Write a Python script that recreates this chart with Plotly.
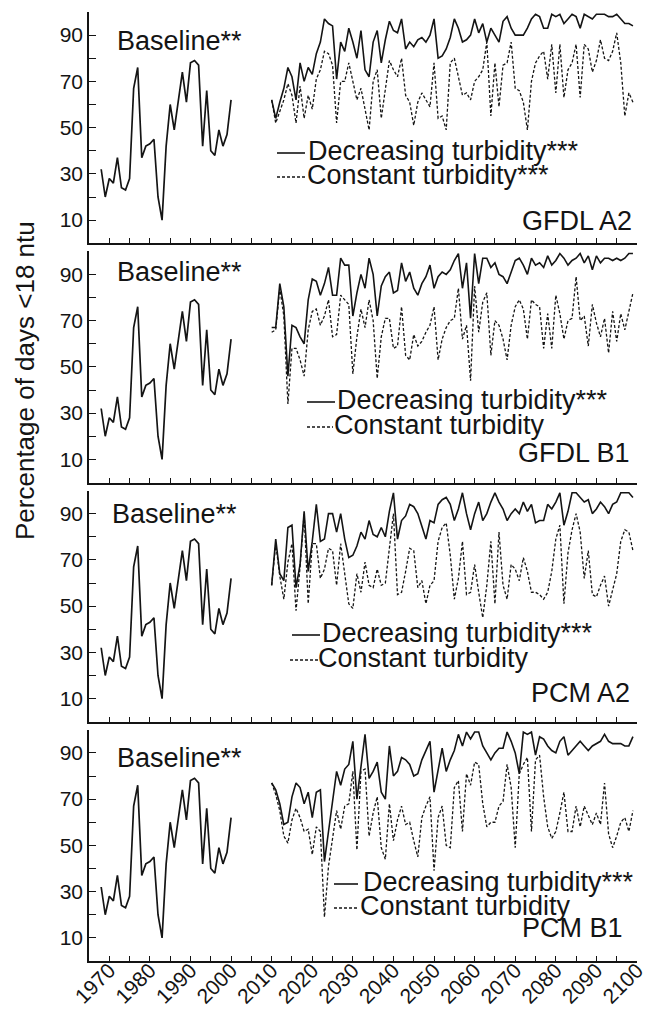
import plotly.graph_objects as go

# ---------------- data ----------------
baseline_years = list(range(1968, 2001))
baseline = [32, 20, 28, 26, 37, 24, 23, 28, 67, 76, 37, 42, 43, 45, 20, 10, 42,
            60, 49, 62, 74, 61, 78, 79, 77, 42, 66, 40, 38, 49, 42, 47, 62]

future_start = 2010

gfdl_a2_dec = [62, 54, 61, 67, 76, 72, 62, 78, 70, 76, 73, 82, 87, 97, 95, 94, 71, 87, 83, 93,
               87, 80, 92, 75, 72, 87, 92, 78, 88, 96, 92, 91, 97, 84, 87, 85, 88, 89, 87, 90,
               97, 80, 81, 84, 89, 97, 93, 87, 88, 90, 97, 91, 95, 87, 93, 90, 87, 96, 98, 93,
               90, 90, 90, 93, 97, 99, 98, 93, 93, 99, 98, 99, 95, 97, 99, 98, 93, 99, 98, 97,
               99, 99, 99, 98, 98, 99, 97, 95, 95, 94]
gfdl_a2_const = [62, 52, 57, 62, 69, 64, 52, 68, 54, 64, 58, 71, 75, 83, 82, 77, 52, 70, 70, 78,
                 70, 62, 67, 58, 49, 70, 75, 54, 66, 79, 75, 72, 80, 64, 61, 51, 61, 65, 62, 59,
                 78, 54, 55, 49, 78, 80, 72, 64, 65, 62, 70, 72, 75, 87, 55, 78, 59, 77, 78, 87,
                 67, 66, 61, 49, 70, 78, 81, 83, 71, 86, 65, 86, 63, 75, 78, 86, 63, 86, 84, 74,
                 79, 88, 80, 79, 83, 91, 78, 55, 65, 61]

gfdl_b1_dec = [67, 67, 86, 76, 46, 68, 67, 63, 60, 79, 88, 87, 81, 86, 93, 81, 81, 97, 94, 94,
               72, 82, 90, 84, 97, 90, 72, 85, 89, 91, 82, 83, 95, 87, 91, 84, 81, 86, 89, 94,
               84, 89, 91, 90, 92, 96, 99, 84, 95, 71, 99, 86, 97, 97, 93, 95, 90, 89, 86, 91,
               96, 97, 94, 90, 97, 94, 95, 93, 98, 94, 96, 99, 97, 94, 96, 97, 99, 95, 98, 92,
               98, 95, 97, 97, 96, 97, 96, 97, 99, 99]
gfdl_b1_const = [65, 66, 84, 72, 34, 58, 58, 53, 46, 66, 74, 75, 68, 72, 79, 63, 64, 81, 79, 77,
                 47, 63, 75, 67, 79, 70, 45, 63, 71, 71, 58, 59, 76, 55, 53, 64, 59, 61, 65, 68,
                 76, 53, 62, 67, 70, 71, 84, 62, 68, 44, 85, 65, 78, 82, 55, 70, 68, 62, 53, 68,
                 76, 79, 75, 62, 79, 77, 76, 58, 73, 58, 81, 73, 62, 70, 71, 89, 70, 72, 59, 77,
                 69, 63, 71, 56, 74, 61, 73, 66, 74, 82]

pcm_a2_dec = [59, 79, 64, 61, 84, 85, 58, 68, 91, 65, 78, 94, 78, 79, 90, 90, 82, 90, 79, 71,
              72, 76, 82, 79, 87, 81, 80, 84, 80, 91, 99, 79, 87, 89, 94, 93, 90, 84, 79, 87,
              86, 94, 96, 97, 94, 87, 92, 99, 90, 83, 90, 95, 87, 90, 95, 99, 95, 92, 87, 90,
              92, 90, 95, 91, 94, 86, 87, 87, 94, 92, 95, 99, 85, 91, 99, 99, 97, 95, 96, 90,
              92, 95, 93, 90, 94, 95, 99, 99, 99, 97]
pcm_a2_const = [59, 77, 63, 53, 69, 77, 48, 67, 90, 51, 77, 77, 62, 66, 75, 74, 59, 77, 64, 51,
                49, 64, 56, 69, 59, 58, 66, 59, 60, 75, 90, 55, 56, 65, 75, 74, 58, 61, 51, 59,
                61, 78, 84, 86, 72, 53, 62, 78, 55, 56, 68, 56, 45, 59, 78, 51, 82, 59, 53, 68,
                66, 61, 71, 65, 56, 56, 55, 53, 56, 65, 79, 85, 51, 73, 83, 90, 82, 62, 74, 55,
                54, 59, 63, 50, 57, 64, 78, 83, 82, 74]

pcm_b1_dec = [77, 74, 68, 59, 60, 71, 77, 75, 68, 73, 62, 73, 74, 43, 56, 70, 82, 76, 83, 85,
              95, 70, 85, 98, 79, 82, 86, 73, 70, 93, 80, 82, 88, 87, 85, 80, 81, 87, 91, 95,
              73, 82, 92, 82, 87, 91, 98, 93, 99, 96, 99, 99, 93, 90, 87, 90, 92, 92, 99, 95,
              90, 81, 99, 98, 99, 89, 97, 96, 93, 91, 90, 95, 97, 89, 91, 93, 95, 93, 91, 93,
              94, 95, 98, 95, 94, 94, 94, 93, 93, 97]
pcm_b1_const = [77, 72, 65, 54, 51, 61, 66, 62, 56, 57, 46, 58, 56, 19, 41, 53, 65, 57, 67, 68,
                82, 48, 82, 83, 54, 64, 71, 49, 44, 68, 52, 61, 67, 59, 60, 52, 45, 62, 67, 71,
                39, 62, 67, 50, 49, 75, 78, 56, 81, 76, 86, 85, 68, 58, 60, 60, 67, 69, 85, 75,
                49, 81, 85, 88, 56, 87, 89, 71, 58, 53, 56, 64, 73, 56, 56, 67, 58, 67, 63, 59,
                64, 59, 77, 55, 49, 54, 60, 62, 56, 65]

panel_names = ["GFDL A2", "GFDL B1", "PCM A2", "PCM B1"]
dec_series = [gfdl_a2_dec, gfdl_b1_dec, pcm_a2_dec, pcm_b1_dec]
const_series = [gfdl_a2_const, gfdl_b1_const, pcm_a2_const, pcm_b1_const]
dec_labels = ["Decreasing turbidity***"] * 4
const_labels = ["Constant turbidity***", "Constant turbidity", "Constant turbidity", "Constant turbidity"]
baseline_label = "Baseline**"
y_title = "Percentage of days &lt;18 ntu"

x_tick_vals = list(range(1970, 2101, 10))
x_minor_vals = list(range(1965, 2100, 10))
y_tick_vals = [10, 30, 50, 70, 90]
y_minor_vals = [20, 40, 60, 80, 100]

# ---------------- layout helpers ----------------
FONT = "Liberation Sans, Arial, Helvetica, sans-serif"
INK = "#141414"
W, H = 646, 1009
ML, MR, MT, MB = 89, 9, 12, 48
PW, PH = W - ML - MR, H - MT - MB

panel_px = [(12, 243.25), (251.25, 482.5), (490.5, 721.75), (729.75, 961)]


def xp(px):
    return (px - ML) / PW


def yp(py):
    return (H - MB - py) / PH


# per-panel text placement (pixels)
base_pos = [(116, 41), (116, 272), (111, 514), (116, 758)]
leg_text = [(307, 151, 306, 175), (336, 400, 333, 425), (321, 633, 317, 658), (362, 882, 359, 906)]
leg_line = [(277, 305, 277, 305), (307, 335, 307, 333), (292, 320, 290, 318), (334, 358, 334, 357)]
name_pos = [(633, 221), (631, 453), (631, 693), (624, 928)]

fig = go.Figure()
annotations = []
shapes = []
big = dict(size=27, color=INK, family=FONT)

for k in range(4):
    sfx = "" if k == 0 else str(k + 1)
    xa, ya = "x" + sfx, "y" + sfx
    years = list(range(future_start, future_start + len(dec_series[k])))

    fig.add_trace(go.Scatter(x=baseline_years, y=baseline, mode="lines",
                             line=dict(color=INK, width=1.7), xaxis=xa, yaxis=ya,
                             showlegend=False, name=baseline_label))
    fig.add_trace(go.Scatter(x=years, y=const_series[k], mode="lines",
                             line=dict(color=INK, width=1.3, dash="3px,2px"), xaxis=xa, yaxis=ya,
                             showlegend=False, name=const_labels[k]))
    fig.add_trace(go.Scatter(x=years, y=dec_series[k], mode="lines",
                             line=dict(color=INK, width=1.6), xaxis=xa, yaxis=ya,
                             showlegend=False, name=dec_labels[k]))

    top, bot = panel_px[k]
    dom = [max(0.0, yp(bot)), min(1.0, yp(top))]
    fig.layout["xaxis" + sfx] = dict(
        domain=[0, 1], anchor=ya, range=[1965, 2100], showline=True, linecolor=INK, linewidth=1.6,
        ticks="inside", ticklen=5, tickwidth=1.4, tickcolor=INK,
        tickmode="array", tickvals=x_tick_vals, ticktext=[str(v) for v in x_tick_vals],
        showticklabels=(k == 3), tickangle=-45, ticklabeloverflow="allow", automargin=False,
        ticklabelstandoff=-13,
        tickfont=dict(size=21, color=INK, family=FONT),
        minor=dict(tickmode="array", tickvals=x_minor_vals, ticks="inside", ticklen=5,
                   tickwidth=1.4, tickcolor=INK),
        showgrid=False, zeroline=False, fixedrange=True)
    fig.layout["yaxis" + sfx] = dict(
        domain=dom, anchor=xa, range=[0, 100], showline=True, linecolor=INK, linewidth=1.6,
        ticks="inside", ticklen=7, tickwidth=1.4, tickcolor=INK,
        tickmode="array", tickvals=y_tick_vals, ticktext=[str(v) for v in y_tick_vals],
        tickfont=dict(size=21, color=INK, family=FONT), ticklabelstandoff=0, automargin=False,
        minor=dict(tickmode="array", tickvals=y_minor_vals, ticks="inside", ticklen=7,
                   tickwidth=1.4, tickcolor=INK),
        showgrid=False, zeroline=False, fixedrange=True)

    bx, by = base_pos[k]
    annotations.append(dict(text=baseline_label, xref="paper", yref="paper", x=xp(bx), y=yp(by),
                            xanchor="left", yanchor="middle", showarrow=False, font=big, borderpad=0))
    t1x, t1y, t2x, t2y = leg_text[k]
    annotations.append(dict(text=dec_labels[k], xref="paper", yref="paper", x=xp(t1x), y=yp(t1y),
                            xanchor="left", yanchor="middle", showarrow=False, font=big, borderpad=0))
    annotations.append(dict(text=const_labels[k], xref="paper", yref="paper", x=xp(t2x), y=yp(t2y),
                            xanchor="left", yanchor="middle", showarrow=False, font=big, borderpad=0))
    nx, ny = name_pos[k]
    annotations.append(dict(text=panel_names[k], xref="paper", yref="paper", x=xp(nx), y=yp(ny),
                            xanchor="right", yanchor="middle", showarrow=False, font=big, borderpad=0))
    a0, a1, b0, b1 = leg_line[k]
    shapes.append(dict(type="line", xref="paper", yref="paper", x0=xp(a0), x1=xp(a1),
                       y0=yp(t1y + 2), y1=yp(t1y + 2), line=dict(color=INK, width=1.6)))
    shapes.append(dict(type="line", xref="paper", yref="paper", x0=xp(b0), x1=xp(b1),
                       y0=yp(t2y + 2), y1=yp(t2y + 2), line=dict(color=INK, width=1.3, dash="3px,2px")))

annotations.append(dict(text=y_title, xref="paper", yref="paper", x=xp(25), y=yp(381),
                        xanchor="center", yanchor="middle", textangle=-90, showarrow=False,
                        font=dict(size=26, color=INK, family=FONT)))

fig.update_layout(width=W, height=H, margin=dict(l=ML, r=MR, t=MT, b=MB, autoexpand=False),
                  paper_bgcolor="white", plot_bgcolor="white", showlegend=False,
                  annotations=annotations, shapes=shapes,
                  font=dict(family=FONT, color=INK))

fig.write_html("out.html")
